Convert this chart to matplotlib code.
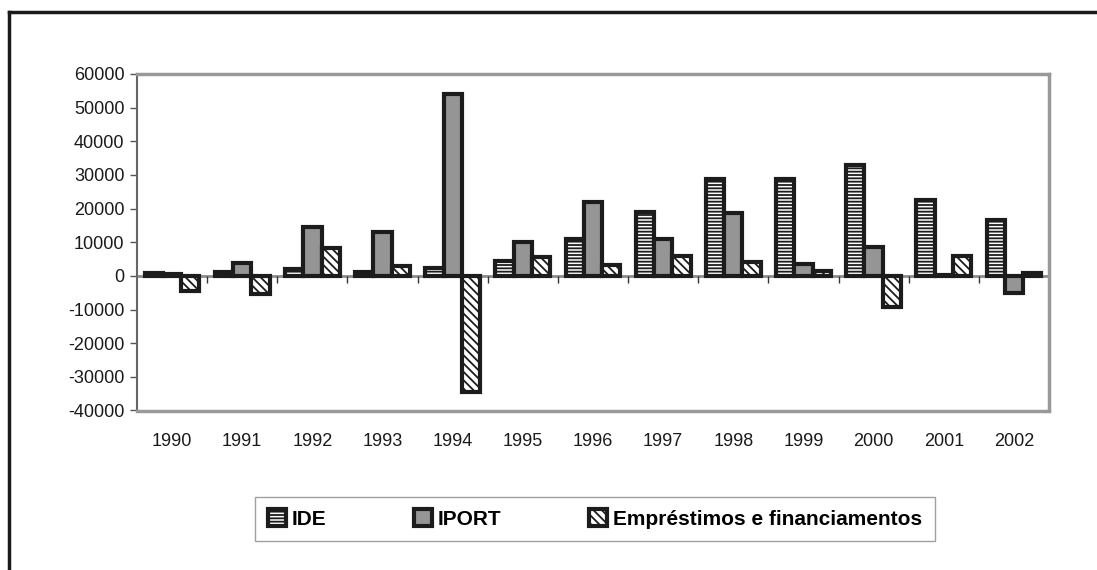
#!/usr/bin/env python3
"""
IDE, IPORT and loans by year, 1990-2002.
"""

import matplotlib
matplotlib.use("Agg")
import matplotlib.pyplot as plt
from matplotlib.lines import Line2D
import numpy as np

years = ["1990", "1991", "1992", "1993", "1994", "1995", "1996",
         "1997", "1998", "1999", "2000", "2001", "2002"]
ide = [1000, 1100, 2100, 1300, 2200, 4500, 11000,
       19000, 28900, 28700, 33000, 22600, 16700]
iport = [700, 3900, 14600, 13000, 54200, 10200, 22000,
         11000, 18800, 3600, 8600, 400, -5100]
emprestimos = [-4500, -5300, 8300, 3000, -34500, 5700, 3300,
               6000, 4200, 1500, -9100, 6000, 1000]

series_names = ["IDE", "IPORT", "Empréstimos e financiamentos"]

plt.rcParams["font.family"] = ["Liberation Sans", "DejaVu Sans"]
plt.rcParams["hatch.linewidth"] = 1.3

fig = plt.figure(figsize=(10.97, 5.70), dpi=100)
ax = fig.add_axes([137 / 1097, 1 - 410.5 / 570, (1049 - 137) / 1097, (410.5 - 74) / 570])

x = np.arange(len(years))
w = 0.26
edge = "#1c1c1c"
ax.bar(x - w, ide, w, facecolor="white", edgecolor=edge, linewidth=3,
       hatch="-----", label=series_names[0], zorder=3)
ax.bar(x, iport, w, facecolor="#959595", edgecolor=edge, linewidth=3,
       label=series_names[1], zorder=3)
ax.bar(x + w, emprestimos, w, facecolor="white", edgecolor=edge, linewidth=3,
       hatch="\\\\\\\\", label=series_names[2], zorder=3)

# zero line with category boundary ticks
ax.axhline(0, color="#8c8c8c", lw=2, zorder=2)
bounds = np.arange(len(years) + 1) - 0.5
ax.vlines(bounds[1:], -2100, 0, color="#333333", lw=1, zorder=2)

ax.set_xlim(-0.5, len(years) - 0.5)
ax.set_ylim(-40000, 60000)
ax.set_yticks(np.arange(-40000, 60001, 10000))
ax.set_yticklabels([str(v) for v in range(-40000, 60001, 10000)])
ax.set_xticks(x)
ax.set_xticklabels(years)
ax.tick_params(axis="x", length=0, pad=16, labelsize=13, colors="#1a1a1a",
               labelfontfamily="Liberation Sans")
ax.tick_params(axis="y", length=5, width=1, pad=4, labelsize=13,
               color="#555555", labelcolor="#1a1a1a",
               labelfontfamily="Liberation Sans")

for side in ["top", "right", "bottom"]:
    ax.spines[side].set_color("#999999")
    ax.spines[side].set_linewidth(2.5)
ax.spines["left"].set_color("#666666")
ax.spines["left"].set_linewidth(1.5)

leg = fig.legend(loc="center", bbox_to_anchor=(595 / 1097, 1 - 519 / 570),
                 ncol=3, frameon=True, fancybox=False, edgecolor="#888888",
                 handlelength=0.85, handleheight=0.85, handletextpad=0.3,
                 columnspacing=4.2, borderpad=0.6,
                 prop={"family": "Liberation Sans", "weight": "bold", "size": 15})
leg.get_frame().set_linewidth(1.0)

# outer frame: top and left only
fig.add_artist(Line2D([9 / 1097, 1], [1 - 12 / 570, 1 - 12 / 570],
                      color="#1a1a1a", lw=2.5))
fig.add_artist(Line2D([9 / 1097, 9 / 1097], [0, 1 - 12 / 570],
                      color="#1a1a1a", lw=2.5))

fig.savefig("out.png", dpi=100)
